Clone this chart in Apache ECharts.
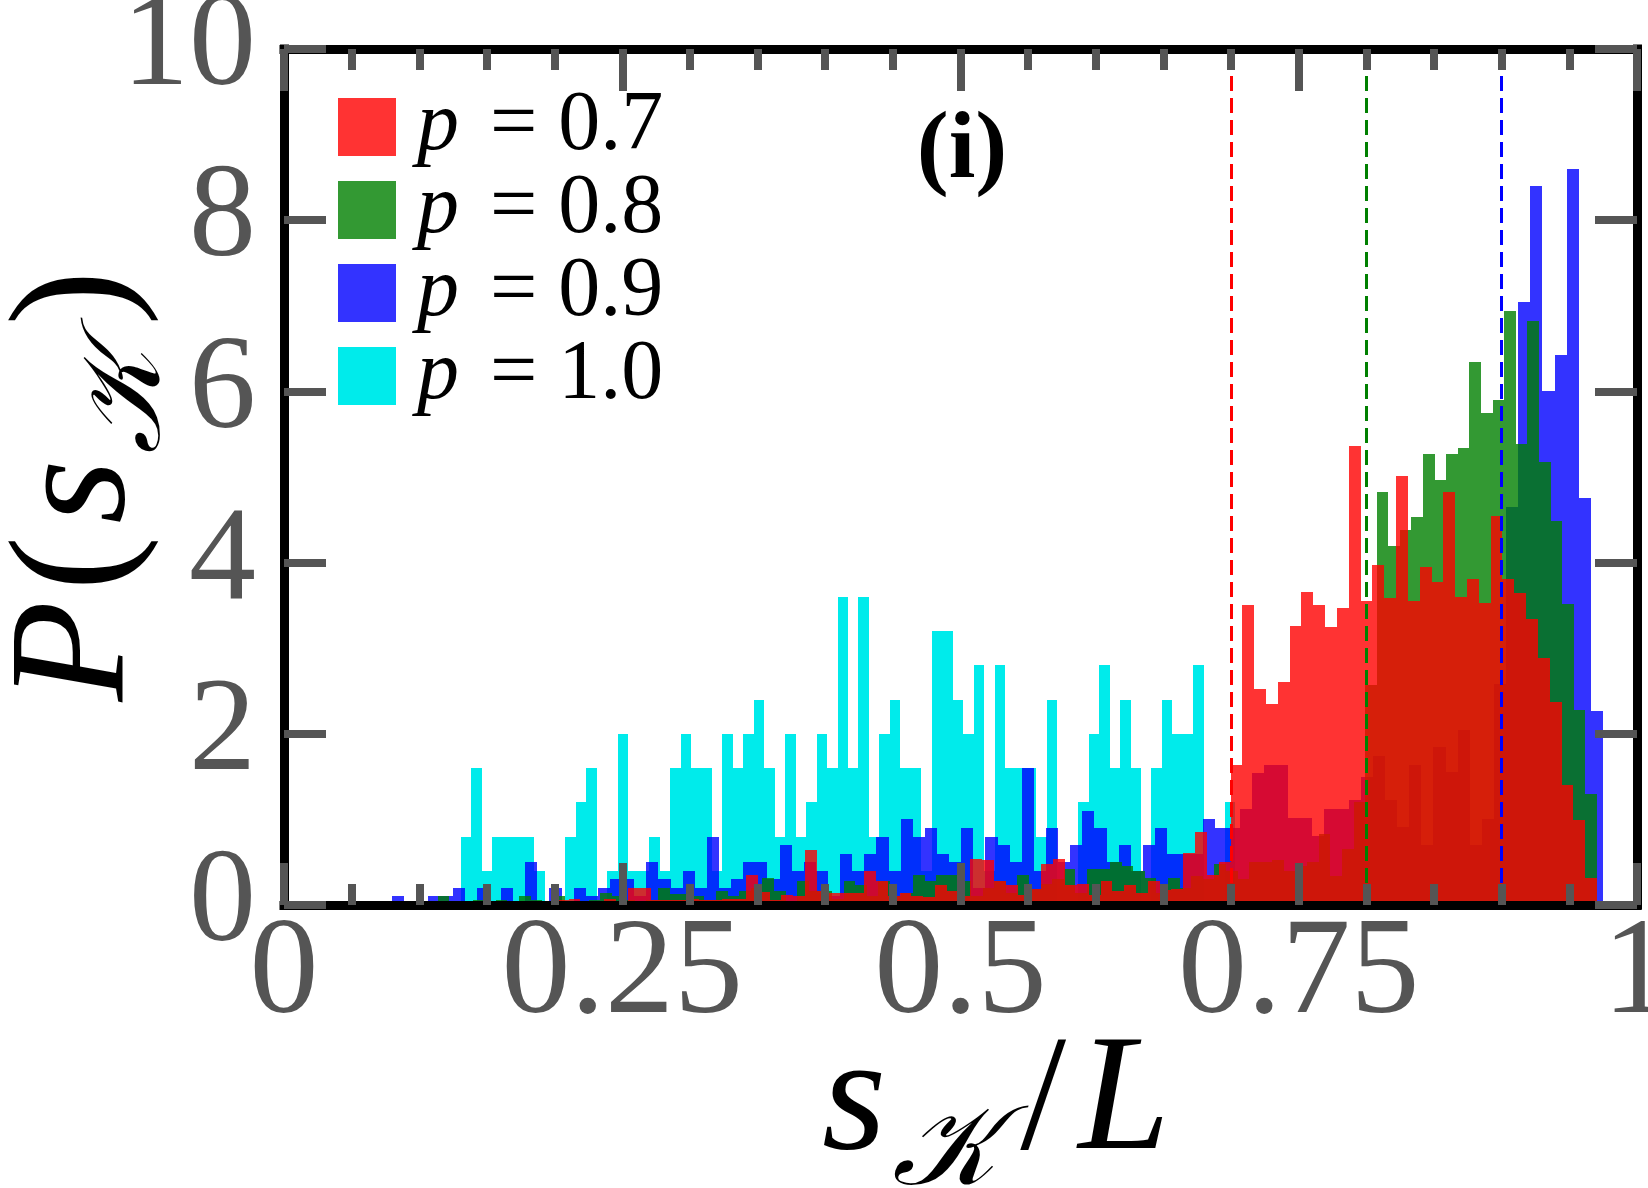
<!DOCTYPE html>
<html>
<head>
<meta charset="utf-8">
<script src="https://cdn.jsdelivr.net/npm/echarts@6/dist/echarts.min.js"></script>
<style>
html,body{margin:0;padding:0;background:#fff;}
#chart{width:1648px;height:1188px;}
</style>
</head>
<body>
<div id="chart"></div>
<script>
// ---------- data (histogram densities) ----------
// p = 1.0 (cyan): first bin edge and bin width in s_K/L
const cyanStart = 0.1307;
const cyanWidth = 0.007734;
const cyanValues = [0.8,1.6,0.4,0.8,0.8,0.8,0.8,0.4,0,0,0.8,1.2,1.6,0,0.4,2.0,0.4,0.4,0.8,0.4,
  1.6,2.0,1.6,1.6,0.4,2.0,1.6,2.0,2.4,1.6,0.8,2.0,0.8,1.2,2.0,1.6,3.6,1.6,3.6,0.8,
  2.0,2.4,1.6,1.6,0.4,3.2,3.2,2.4,2.0,2.8,0.4,2.8,1.6,1.6,1.6,0.8,2.4,0,0,1.2,
  2.0,2.8,1.6,2.4,1.6,0,1.6,2.4,2.0,2.0,2.8,0,0,1.2];

// p = 0.9 (blue)
const blueStart = 0.0798;
const blueWidth = 0.008951;
const blueValues = [0.1,0,0,0.1,0.1,0.2,0,0.2,0,0.2,0,0.5,0,0.2,0,0.2,0.1,0.2,0.3,0.3,
  0.1,0.5,0.3,0.2,0.4,0.2,0.8,0.2,0.3,0.5,0.5,0.3,0.7,0.4,0.5,0.4,0.1,0.6,0.4,0.6,
  0.8,0.4,1.0,0.8,0.9,0.6,0.5,0.9,0.2,0.8,0.7,0.5,1.6,0.4,0.9,0.5,0.7,1.1,0.9,0.5,
  0.7,0.4,0.7,0.9,0.6,0.6,0.6,1.0,0.9,0.9,1.12,1.54,1.63,1.63,1.02,1.02,0.81,1.12,1.12,1.23,
  1.5,1.74,1.23,0.91,1.63,0.7,1.84,1.55,2.05,0.7,1.0,2.58,4.65,7.04,8.40,6.0,6.42,8.60,4.75,2.27];

// p = 0.8 (green)
const greenStart = 0.1137;
const greenWidth = 0.008567;
const greenValues = [0.1,0,0,0.06,0,0.06,0,0.1,0.06,0,0.1,0.03,0.03,0.06,0.14,0.1,0.06,0.03,0.06,0.2,
  0.13,0.13,0.1,0.06,0.16,0.1,0.16,0.2,0.32,0.16,0.05,0.28,0.16,0.16,0.07,0.28,0.23,0.1,0.28,0.1,
  0.14,0.35,0.28,0.35,0.35,0.28,0.1,0.2,0.28,0.14,0.35,0.19,0.25,0.3,0.42,0.14,0.42,0.42,0.5,0.46,
  0.4,0.32,0.14,0.32,0.2,0.34,0.3,0.48,0.4,0.3,0.5,0.5,0.53,0.4,0.45,0.5,0.83,0.34,0.65,1.2,
  2.57,4.82,4.19,4.38,4.53,5.27,4.97,5.27,5.34,6.34,5.75,5.9,6.94,5.38,6.82,5.17,4.49,3.52,2.28,1.30];

// p = 0.7 (red)
const redStart = 0.09675;
const redWidth = 0.008737;
const redValues = [0,0,0,0,0,0,0,0,0,0,0,0,0.06,0.07,0.03,0.03,0.07,0.05,0.2,0.2,
  0.06,0.06,0.06,0.07,0.06,0.06,0.07,0.07,0.35,0.15,0.06,0.12,0.1,0.64,0.16,0.14,0.14,0.14,0.4,0.28,
  0.11,0.14,0.1,0.09,0.23,0.16,0.1,0.54,0.53,0.28,0.23,0.12,0.19,0.48,0.54,0.23,0.25,0.12,0.28,0.16,
  0.23,0.14,0.28,0.18,0.19,0.61,0.85,0.35,0.5,1.63,3.5,2.52,2.35,2.6,3.26,3.66,3.5,3.25,3.47,5.36,
  3.55,3.97,3.59,5.01,3.55,3.95,3.77,4.82,3.6,3.81,3.53,4.54,3.81,3.64,3.34,2.89,2.37,1.40,0.99,0.32];

// mean positions (dashed lines)
const meanNames = ['p = 0.7','p = 0.8','p = 0.9'];
const meanValues = [0.7, 0.8, 0.9];

const seriesNames = ['p = 0.7','p = 0.8','p = 0.9','p = 1.0'];
const xTicks = [0, 0.25, 0.5, 0.75, 1];
const yTicks = [0, 2, 4, 6, 8, 10];

// ---------- chart ----------
const chart = echarts.init(document.getElementById('chart'), null, {renderer:'canvas'});
const SERIF = 'Liberation Serif';
const TICK = '#555555';

function hist(name, values, start, width, color, opacity) {
  const data = values.map((v, i) => [start + i * width, start + (i + 1) * width, v]);
  return {
    type: 'custom', name: name, data: data,
    encode: {x: [0, 1], y: 2},
    itemStyle: {color: color, opacity: opacity},
    animation: false, silent: true,
    renderItem: function (params, api) {
      const h = api.value(2);
      if (!(h > 0)) return null;
      const a = api.coord([api.value(0), 0]);
      const b = api.coord([api.value(1), h]);
      const x0 = Math.round(a[0]), x1 = Math.round(b[0]);
      const y0 = Math.round(a[1]), y1 = Math.round(b[1]);
      return {type: 'rect', shape: {x: x0, y: y1, width: x1 - x0, height: y0 - y1},
              style: {fill: color, opacity: opacity}};
    }
  };
}

const lineColors = ['#ff0000', '#008000', '#0000ff'];

function xAxisCfg(pos, showLabel) {
  return {
    type: 'value', position: pos, min: xTicks[0], max: xTicks[xTicks.length - 1], interval: 0.25,
    z: 10,
    axisLine: {show: true, onZero: false, lineStyle: {color: '#000', width: 9, cap: 'square'}},
    axisTick: {show: true, inside: true, length: 42, lineStyle: {color: TICK, width: 8}},
    minorTick: {show: true, splitNumber: 5, length: 21, lineStyle: {color: TICK, width: 8}},
    splitLine: {show: false}, minorSplitLine: {show: false},
    axisLabel: {show: showLabel, margin: 2, color: TICK, fontSize: 138, fontFamily: SERIF}
  };
}
function yAxisCfg(pos, showLabel) {
  return {
    type: 'value', position: pos, min: yTicks[0], max: yTicks[yTicks.length - 1], interval: 2,
    z: 10,
    axisLine: {show: true, onZero: false, lineStyle: {color: '#000', width: 9, cap: 'square'}},
    axisTick: {show: true, inside: true, length: 42, lineStyle: {color: TICK, width: 8}},
    splitLine: {show: false},
    axisLabel: {show: showLabel, margin: 28, color: TICK, fontSize: 134, fontFamily: SERIF}
  };
}

const titleRich = {
  it: {fontFamily: SERIF, fontStyle: 'italic', fontSize: 165, color: '#000'},
  up: {fontFamily: SERIF, fontSize: 165, color: '#000', padding: [0, 12, 0, 10]},
  sub: {fontFamily: SERIF, fontStyle: 'italic', fontSize: 112, color: '#000',
        padding: [100, 14, 0, 6], verticalAlign: 'bottom'}
};

const option = {
  animation: false,
  backgroundColor: '#ffffff',
  grid: {left: 284, right: 11, top: 49, bottom: 283, containLabel: false, outerBoundsMode: 'none'},
  xAxis: [xAxisCfg('bottom', true), xAxisCfg('top', false)],
  yAxis: [yAxisCfg('left', true), yAxisCfg('right', false)],
  legend: {
    orient: 'vertical', left: 333, top: 80, itemWidth: 58, itemHeight: 58, itemGap: -1,
    icon: 'rect', selectedMode: false,
    data: [
      {name: seriesNames[0], itemStyle: {color: '#ff3333', opacity: 1}},
      {name: seriesNames[1], itemStyle: {color: '#339933', opacity: 1}},
      {name: seriesNames[2], itemStyle: {color: '#3333ff', opacity: 1}},
      {name: seriesNames[3], itemStyle: {color: '#00ebeb', opacity: 1}}
    ],
    formatter: function (n) { return '{p|p}' + n.slice(1); },
    textStyle: {fontFamily: SERIF, fontSize: 84, color: '#000',
      rich: {p: {fontFamily: SERIF, fontStyle: 'italic', fontSize: 84, color: '#000', padding: [0, 10, 0, 16]}}}
  },
  graphic: [
    {type: 'text', x: 962, y: 152, z: 20,
     style: {text: '(i)', font: "bold 96px 'Liberation Serif'", fill: '#000', align: 'center', verticalAlign: 'middle'}},
    {type: 'text', x: 996, y: 1105, z: 20,
     style: {text: '{it|s}{sub|𝒦}{up|/}{it|L}', rich: titleRich, align: 'center', verticalAlign: 'middle'}},
    {type: 'text', x: 80, y: 480, z: 20, rotation: Math.PI / 2,
     style: {text: '{it|P}{up|(}{it|s}{sub|𝒦}{up|)}', rich: titleRich, align: 'center', verticalAlign: 'middle'}}
  ],
  series: [
    hist(seriesNames[3], cyanValues, cyanStart, cyanWidth, '#00ebeb', 1),
    hist(seriesNames[2], blueValues, blueStart, blueWidth, '#0000ff', 0.8),
    hist(seriesNames[1], greenValues, greenStart, greenWidth, '#008000', 0.8),
    hist(seriesNames[0], redValues, redStart, redWidth, '#ff0000', 0.8),
    {
      type: 'line', name: 'means', data: [], z: 5, silent: true,
      markLine: {
        silent: true, symbol: ['none', 'none'], animation: false,
        label: {show: false},
        lineStyle: {type: [15, 7], width: 3},
        data: meanValues.map((v, i) => ({xAxis: v, name: meanNames[i], lineStyle: {color: lineColors[i], type: [15, 7], width: 3}}))
      }
    }
  ]
};
chart.setOption(option);
</script>
</body>
</html>
